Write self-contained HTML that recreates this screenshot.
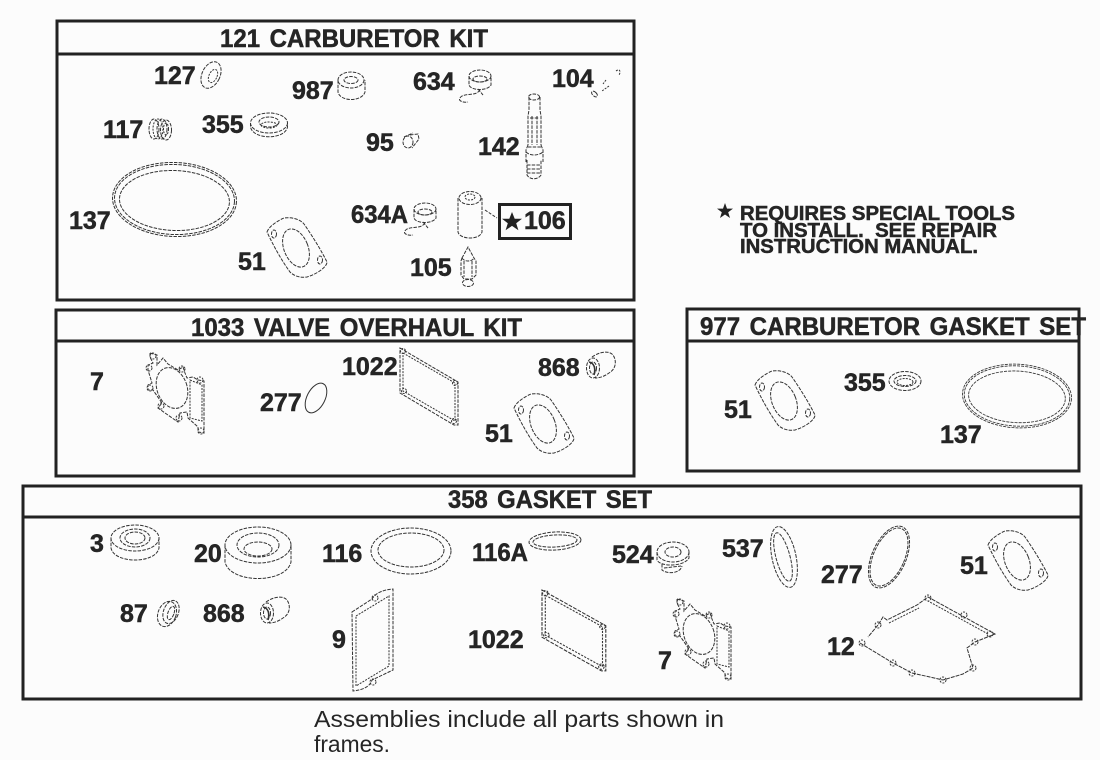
<!DOCTYPE html>
<html><head><meta charset="utf-8"><style>
html,body{margin:0;padding:0;background:#fcfcfc}
svg{display:block}
text{font-family:"Liberation Sans",sans-serif;font-weight:bold;fill:#252525;stroke:#252525;stroke-width:.5;white-space:pre}
.t{font-size:25px}
.h{font-size:25px;word-spacing:3px}
.f{fill:none;stroke:#222;stroke-width:3}
.p{fill:none;stroke:#333;stroke-width:1;stroke-dasharray:3.5 1.2}
.d{fill:none;stroke:#333;stroke-width:1;stroke-dasharray:2 1.2}
</style></head><body>
<svg width="1100" height="760" viewBox="0 0 1100 760" xmlns="http://www.w3.org/2000/svg">
<defs>
<g id="fl">
<path class="p" d="M0 15C2 9 12 3 17 1C25 0 33 2 37 7C46 20 54 33 60 45C60 50 50 57 40 60C33 61 27 59 23 55C15 44 7 30 0 15Z"/>
<ellipse class="p" cx="29" cy="31" rx="12" ry="20" transform="rotate(-22 29 31)"/>
<ellipse class="p" cx="7" cy="17" rx="2.5" ry="4"/>
<ellipse class="p" cx="53" cy="43" rx="2.5" ry="4"/>
</g>
<g id="g7">
<path class="p" d="M150 353L157 355L157 365L163 358L168 364L178 370L183 367L185 373L187 378L193 377L198 380L204 381L204 433L198 432L198 427L188 418L187 412L180 413L178 422L175 420L158 408L162 403L153 390L148 390L148 385L152 383L148 370L148 365L153 363L150 357Z"/>
<ellipse class="p" cx="172" cy="388" rx="15" ry="21" transform="rotate(-20 172 388)"/>
<path class="d" d="M190 380L202 385V421L190 418Z"/>
<circle class="d" cx="153" cy="356" r="3"/><circle class="d" cx="149" cy="368" r="3"/><circle class="d" cx="150" cy="388" r="3"/><circle class="d" cx="182" cy="369" r="3"/><circle class="d" cx="200" cy="380" r="3"/><circle class="d" cx="161" cy="406" r="3"/><circle class="d" cx="179" cy="418" r="3"/><circle class="d" cx="201" cy="431" r="3"/>
</g>
<g id="g1022">
<path class="p" d="M400 348L458 382V425L454 425L400 393Z"/>
<path class="d" d="M403 353L455 383V421L403 391Z"/>
<circle class="d" cx="403" cy="351" r="2.5"/><circle class="d" cx="455" cy="383" r="2.5"/><circle class="d" cx="404" cy="391" r="2.5"/><circle class="d" cx="454" cy="421" r="2.5"/>
</g>
<g id="g137">
<ellipse class="p" cx="0" cy="0" rx="62" ry="37"/>
<ellipse class="p" cx="0" cy="0" rx="60" ry="35"/>
<ellipse class="p" cx="0" cy="1" rx="55" ry="30"/>
</g>
<g id="g868">
<ellipse class="p" cx="8" cy="14" rx="6.500" ry="10"/>
<ellipse class="p" cx="8" cy="14" rx="3.500" ry="6"/>
<path class="p" d="M7 3C14 -2 24 -4 28 1C32 7 31 15 24 19C20 22 15 24 10 24"/>
<path d="M4 8C9 9 11 14 9 21" fill="none" stroke="#333" stroke-width="1.600"/>
</g>
<g id="g634">
<ellipse class="p" cx="24" cy="7" rx="11" ry="6"/>
<ellipse class="p" cx="24" cy="10" rx="7" ry="3"/>
<path class="p" d="M13 7V16C15 22 32 22 35 16V7"/>
<path class="p" d="M24 21C20 27 13 24 6 27C0 31 6 34 12 33"/>
<path class="p" d="M22 20L27 26"/>
</g>
</defs>
<rect width="1100" height="760" fill="#fcfcfc"/>

<!-- frames -->
<rect class="f" x="57" y="21" width="577" height="279"/><line class="f" x1="57" y1="54" x2="634" y2="54"/>
<rect class="f" x="56" y="310" width="578" height="166"/><line class="f" x1="56" y1="341" x2="634" y2="341"/>
<rect class="f" x="687" y="309" width="392" height="162"/><line class="f" x1="687" y1="341" x2="1079" y2="341"/>
<rect class="f" x="23" y="486" width="1058" height="213"/><line class="f" x1="23" y1="517" x2="1081" y2="517"/>

<!-- titles -->
<text x="220" y="47" class="h" textLength="268" lengthAdjust="spacingAndGlyphs">121 CARBURETOR KIT</text>
<text x="191" y="336" class="h" textLength="331" lengthAdjust="spacingAndGlyphs">1033 VALVE OVERHAUL KIT</text>
<text x="700" y="335" class="h" textLength="386" lengthAdjust="spacingAndGlyphs">977 CARBURETOR GASKET SET</text>
<text x="448" y="508" class="h" textLength="204" lengthAdjust="spacingAndGlyphs">358 GASKET SET</text>

<!-- labels frame 1 -->
<text class="t" x="154" y="84">127</text><text class="t" x="292" y="99">987</text>
<text class="t" x="413" y="90">634</text><text class="t" x="552" y="87">104</text>
<text class="t" x="103" y="138">117</text><text class="t" x="202" y="133">355</text>
<text class="t" x="366" y="151">95</text><text class="t" x="478" y="155">142</text>
<text class="t" x="69" y="229">137</text>
<text class="t" x="351" y="223" textLength="57" lengthAdjust="spacingAndGlyphs">634A</text>
<text class="t" x="524" y="229">106</text>
<text class="t" x="238" y="270">51</text><text class="t" x="410" y="276">105</text>
<rect x="499.500" y="204.500" width="71" height="34" fill="none" stroke="#222" stroke-width="3"/>
<path d="M512 212l2.700 6.700h7.300l-5.800 4.500 2.200 7-6.400-4.300-6.400 4.300 2.200-7-5.800-4.500h7.300z" fill="#222"/>

<!-- labels frame 2 -->
<text class="t" x="90" y="390">7</text><text class="t" x="260" y="411">277</text>
<text class="t" x="342" y="375">1022</text><text class="t" x="538" y="376">868</text>
<text class="t" x="485" y="442">51</text>

<!-- labels frame 3 -->
<text class="t" x="724" y="418">51</text><text class="t" x="844" y="391">355</text>
<text class="t" x="940" y="443">137</text>

<!-- labels frame 4 -->
<text class="t" x="90" y="552">3</text><text class="t" x="194" y="562">20</text>
<text class="t" x="322" y="562">116</text>
<text class="t" x="472" y="561" textLength="56" lengthAdjust="spacingAndGlyphs">116A</text>
<text class="t" x="612" y="563">524</text><text class="t" x="722" y="557">537</text>
<text class="t" x="821" y="583">277</text><text class="t" x="960" y="574">51</text>
<text class="t" x="120" y="622">87</text><text class="t" x="203" y="622">868</text>
<text class="t" x="332" y="648">9</text><text class="t" x="468" y="648">1022</text>
<text class="t" x="658" y="669">7</text><text class="t" x="827" y="655">12</text>

<!-- note -->
<path d="M725 203l2 5.600h6l-4.800 3.600 1.800 5.800-5-3.500-5 3.500 1.800-5.800-4.800-3.600h6z" fill="#222"/>
<g style="font-size:20px">
<text x="740" y="220" textLength="275" lengthAdjust="spacingAndGlyphs">REQUIRES SPECIAL TOOLS</text>
<text x="740" y="237" textLength="257" lengthAdjust="spacingAndGlyphs">TO INSTALL.  SEE REPAIR</text>
<text x="740" y="253" textLength="238" lengthAdjust="spacingAndGlyphs">INSTRUCTION MANUAL.</text>
</g>

<!-- footer -->
<g style="font-size:23px">
<text x="314" y="727" textLength="410" lengthAdjust="spacingAndGlyphs" style="font-weight:normal;stroke:none">Assemblies include all parts shown in</text>
<text x="314" y="752" textLength="76" lengthAdjust="spacingAndGlyphs" style="font-weight:normal;stroke:none">frames.</text>
</g>

<!-- parts frame 1 -->
<ellipse class="p" cx="211" cy="75" rx="9" ry="14" transform="rotate(25 211 75)"/>
<ellipse class="d" cx="213" cy="76" rx="4" ry="7" transform="rotate(25 213 76)"/>
<g>
<ellipse class="p" cx="351" cy="80" rx="13" ry="8"/><ellipse class="p" cx="351" cy="80" rx="7" ry="3.500"/>
<path class="p" d="M338 80V92C340 102 362 102 365 92V80"/>
</g>
<use href="#g634" x="456" y="69"/>
<use href="#g634" x="401" y="202"/>
<path class="d" d="M616 71C620 68 621 72 619 75M606 80L603 84M609 86L602 91"/>
<ellipse class="p" cx="594.500" cy="94" rx="2" ry="3.500" transform="rotate(-45 594.500 94)"/>
<g>
<ellipse class="p" cx="154" cy="129" rx="5" ry="10"/><ellipse class="d" cx="158" cy="129" rx="5" ry="10"/><ellipse class="p" cx="162" cy="129" rx="5" ry="10"/>
<ellipse class="p" cx="166" cy="130" rx="5.500" ry="10"/><ellipse class="d" cx="166" cy="129" rx="2.500" ry="6"/>
</g>
<ellipse class="p" cx="269" cy="123" rx="18.500" ry="10"/>
<path class="p" d="M250.500 123V127C253 140 285 140 287.500 127V123"/>
<ellipse class="p" cx="269" cy="122" rx="10" ry="5"/><ellipse class="d" cx="269" cy="125" rx="8" ry="3"/>
<ellipse class="p" cx="408" cy="142" rx="5" ry="6"/><path class="p" d="M410 135L418 134L419 139L412 148M404 137L413 133"/>
<!-- 142 -->
<ellipse class="p" cx="534" cy="97" rx="5.500" ry="3"/>
<path class="p" d="M529 97V110L528 116V145M540 97V110L541 116V145M530 118H539"/>
<path class="p" d="M532 116V145M537 116V145M528 145L526 150V162M541 145L543 150V162"/>
<path class="p" d="M528 147H541M526 152C530 156 538 156 543 152"/>
<path class="p" d="M527 160V175C530 180 538 180 541 175V160M527 165H541M527 169H541M527 173H541"/>
<!-- 106 part -->
<ellipse class="p" cx="470" cy="198" rx="11" ry="6.500"/><ellipse class="d" cx="470" cy="197" rx="5" ry="3"/>
<path class="p" d="M458 198V232C460 240 480 240 482 232V198"/>
<line x1="485" y1="210" x2="497" y2="218" stroke="#333" stroke-width="1" stroke-dasharray="3 1.500"/>
<!-- 105 -->
<path class="p" d="M462 258L468 247L474 258L476 261V275L472 279H464L461 275V261Z"/>
<path class="p" d="M462 258C464 262 472 262 474 258M464 261V277M472 261V277"/>
<ellipse class="p" cx="468" cy="283" rx="5.500" ry="3.500"/>
<use href="#g137" transform="translate(174.500 199.500) rotate(2)"/>
<use href="#fl" x="267" y="217"/>

<!-- parts frame 2 -->
<use href="#g7"/>
<ellipse class="p" cx="316" cy="398" rx="9" ry="16" transform="rotate(27 316 398)" style="stroke-dasharray:none"/>
<use href="#g1022"/>
<use href="#g868" x="585" y="354"/>
<use href="#fl" x="514" y="393"/>

<!-- parts frame 3 -->
<use href="#fl" x="755" y="370"/>
<ellipse class="p" cx="905" cy="381" rx="16" ry="9.500"/><ellipse class="p" cx="905" cy="381" rx="11" ry="5.500"/><ellipse class="d" cx="905" cy="382" rx="8" ry="3.500"/>
<use href="#g137" transform="translate(1017 396) scale(.88 .86) rotate(3)"/>

<!-- parts frame 4 -->
<g>
<ellipse class="p" cx="135" cy="538" rx="24" ry="13"/><ellipse class="p" cx="135" cy="538" rx="15" ry="9"/><ellipse class="p" cx="135" cy="538" rx="10" ry="6"/>
<path class="p" d="M111 538V548C114 564 156 564 159 548V538"/>
</g>
<g>
<ellipse class="p" cx="258" cy="545" rx="33" ry="18"/><ellipse class="p" cx="258" cy="545" rx="21" ry="12"/><ellipse class="p" cx="258" cy="549" rx="14" ry="7"/>
<path class="p" d="M225 545V562C230 584 286 584 291 562V545"/>
</g>
<ellipse class="p" cx="411" cy="551" rx="40" ry="23"/><ellipse class="p" cx="411" cy="550" rx="33" ry="17"/>
<ellipse class="p" cx="555" cy="541" rx="26" ry="9" transform="rotate(-3 555 541)"/><ellipse class="p" cx="555" cy="541" rx="22" ry="6" transform="rotate(-3 555 541)"/>
<g>
<ellipse class="p" cx="673" cy="552" rx="16" ry="10"/><ellipse class="p" cx="673" cy="552" rx="8" ry="5"/>
<path class="p" d="M657 552V560C660 567 684 567 689 558V552"/>
<path class="p" d="M662 564V570C667 574 680 574 682 566M664 568L681 566"/>
</g>
<ellipse class="p" cx="784" cy="557" rx="12" ry="31" transform="rotate(-12 784 557)"/>
<ellipse class="p" cx="783" cy="557" rx="7" ry="25" transform="rotate(-15 783 557)"/>
<ellipse class="p" cx="889" cy="557" rx="17" ry="33" transform="rotate(24 889 557)"/>
<ellipse class="p" cx="889" cy="557" rx="15.500" ry="31" transform="rotate(24 889 557)"/>
<use href="#fl" x="988" y="530"/>
<g>
<ellipse class="p" cx="167" cy="614" rx="9" ry="13" transform="rotate(20 167 614)"/><ellipse class="p" cx="171" cy="612" rx="7.500" ry="12" transform="rotate(20 171 612)"/><ellipse class="p" cx="171" cy="613" rx="3" ry="7" transform="rotate(20 171 613)"/>
</g>
<use href="#g868" x="259" y="599"/>
<path class="p" d="M352 612L372 599C375 594 381 590 393 589V670L372 680C370 687 362 690 353 691Z"/>
<path class="d" d="M356 616L389 596V666L356 686Z"/>
<ellipse class="d" cx="375" cy="598" rx="3" ry="3"/><ellipse class="d" cx="373" cy="682" rx="3" ry="3"/>
<use href="#g1022" transform="translate(102 224.600) scale(1.100 1.050)"/>
<use href="#g7" transform="translate(527 246)"/>
<!-- 12 -->
<path class="p" d="M860 643L893 663L912 673L943 680L963 674L973 668L967 648L975 642L995 634L928 597L917 605L887 620L883 617L878 625L868 637" style="stroke-dasharray:4 1"/>
<path class="d" d="M988 634L928 601M889 623L919 608"/>
<circle class="d" cx="862" cy="643" r="3"/><circle class="d" cx="928" cy="598" r="3"/><circle class="d" cx="964" cy="615" r="3"/><circle class="d" cx="990" cy="634" r="3"/><circle class="d" cx="975" cy="642" r="3"/><circle class="d" cx="973" cy="668" r="3"/><circle class="d" cx="943" cy="680" r="3"/><circle class="d" cx="912" cy="673" r="3"/><circle class="d" cx="893" cy="663" r="3"/><circle class="d" cx="878" cy="625" r="3"/>
</svg>
</body></html>
